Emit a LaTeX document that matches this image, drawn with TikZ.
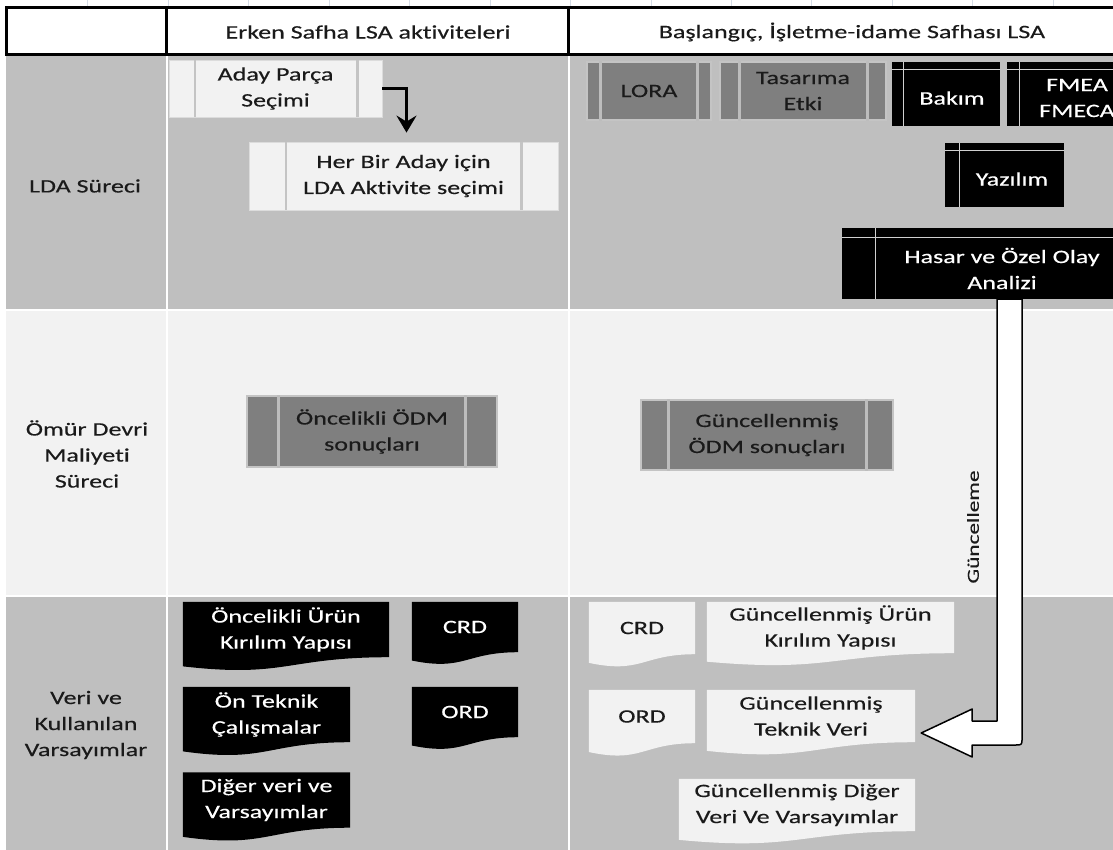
\documentclass[tikz,border=0pt]{standalone}
\usepackage{fontspec}
\setmainfont{Carlito}[FakeStretch=1.37,FakeBold=0.35,Ligatures=NoCommon]
\usetikzlibrary{calc,arrows.meta}
\pgfdeclarelayer{bg}
\pgfdeclarelayer{mid}
\pgfsetlayers{bg,mid,main}
\definecolor{rowgrey}{HTML}{BFBFBF}
\definecolor{rowlight}{HTML}{F2F2F2}
\definecolor{boxlight}{HTML}{F2F2F2}
\definecolor{boxdark}{HTML}{7F7F7F}
\definecolor{txtc}{HTML}{1A1A1A}
\definecolor{gridc}{HTML}{D5DCE6}
\definecolor{plline}{HTML}{DCDCDC}
\definecolor{pdline}{HTML}{C4C4C4}
\definecolor{sepc}{HTML}{C4C4C4}
\definecolor{sepdc}{HTML}{BDBDBD}
\definecolor{storec}{HTML}{D0D0D0}
\newcommand\proclines[4]{\draw[#4] ($(#1.north west)+(#2pt,0pt)$) -- ($(#1.south west)+(#2pt,0pt)$) ($(#1.north east)+(-#3pt,0pt)$) -- ($(#1.south east)+(-#3pt,0pt)$);}
\newcommand\storeext[3]{%
  \fill[black] ($(#1.south west)+(-#2pt,0pt)$) rectangle ($(#1.north west)+(0pt,#3pt)$);
  \fill[black] (#1.north west) rectangle ($(#1.north east)+(0pt,#3pt)$);
  \draw[storeline] ($(#1.north west)+(-#2pt,0pt)$) -- (#1.north east);
  \draw[storeline] ($(#1.north west)+(0pt,#3pt)$) -- (#1.south west);}
\newcommand\docfill[2]{\fill[#2] let \p1=(#1.north west), \p2=(#1.south east), \n1={\y1-\y2} in
  (\x1,\y1) -- (\x2,\y1) -- (\x2,\y2) .. controls ({0.5*(\x1+\x2)},\y2) and ({0.5*(\x1+\x2)},{\y2-0.380*\n1}) .. (\x1,{\y2-0.165*\n1}) -- cycle;}
\begin{document}
\begin{tikzpicture}[x=1pt,y=-1pt,
  lbl/.style={font=\fontsize{19}{26}\selectfont, text=txtc, align=center, inner sep=0pt},
  procl/.style={lbl, fill=boxlight, draw=plline, line width=0.8pt},
  procd/.style={lbl, fill=boxdark, draw=pdline, line width=1.4pt},
  sepl/.style={draw=sepc, line width=2.2pt},
  sepd/.style={draw=sepdc, line width=2.6pt},
  store/.style={lbl, text=white, fill=black},
  storeline/.style={draw=storec, line width=1.2pt},
  docb/.style={lbl, text=white},
  docl/.style={lbl},
  hdr/.style={draw=black, line width=3pt},
  elbow/.style={draw=black, line width=3pt, -{Stealth[length=17pt,width=20pt,inset=6pt]}},
  blockarrow/.style={fill=white, draw=black, line width=1.5pt, line join=round}]
\useasboundingbox (0,0) rectangle (1113,850);

% background rows and grid
\begin{pgfonlayer}{bg}
\fill[white] (0,0) rectangle (1113,850);
\foreach \gx in {87,168,248,329,409,490,570,651,731,811,892,972,1053}
  \draw[gridc, line width=0.8pt] (\gx,0) -- (\gx,8);
\fill[rowgrey] (6,55) rectangle (1113,309);
\fill[rowlight] (6,310.5) rectangle (1113,595);
\fill[rowgrey] (6,597) rectangle (1113,850);
\fill[white] (166,55) rectangle (168,850);
\fill[white] (568,55) rectangle (570,850);
\end{pgfonlayer}

% header
\fill[white] (6,8) rectangle (1113,54);
\draw[hdr] (6.5,8) rectangle (1125,54.5);
\draw[hdr] (166.5,8) -- (166.5,54.5);
\draw[hdr] (568.5,8) -- (568.5,54.5);
\node[lbl] (h1) at (368,32) {Erken Safha LSA aktiviteleri};
\node[lbl] (h2) at (852,32) {Başlangıç, İşletme-idame Safhası LSA};

% row labels
\node[lbl] (l1) at (85,186) {LDA Süreci};
\node[lbl] (l2) at (87,454) {Ömür Devri\\Maliyeti\\Süreci};
\node[lbl] (l3) at (86,725) {Veri ve\\Kullanılan\\Varsayımlar};

% LDA process boxes
\node[procl, minimum width=213pt, minimum height=57pt] (aday) at (275.5,88.5) {Aday Parça\\Seçimi};
\node[procl, minimum width=309pt, minimum height=68pt] (herbir) at (403.5,176) {Her Bir Aday için\\LDA Aktivite seçimi};
\proclines{aday}{26}{25}{sepl}
\proclines{herbir}{37}{37}{sepl}
\draw[elbow] (aday.east) -| ($(herbir.north)+(3pt,9pt)$);

\node[procd, minimum width=124pt, minimum height=58pt] (lora) at (649,91) {LORA};
\node[procd, minimum width=166pt, minimum height=58pt] (tasarim) at (803,91) {Tasarıma\\Etki};
\proclines{lora}{14}{14}{sepd}
\proclines{tasarim}{20}{19}{sepd}

\node[store, minimum width=96pt, minimum height=56pt] (bakim) at (952,98) {Bakım};
\node[store, minimum width=114pt, minimum height=56pt] (fmea) at (1077,98) {FMEA\\FMECA};
\node[store, minimum width=104pt, minimum height=56pt] (yazilim) at (1012,179) {Yazılım};
\node[store, minimum width=252pt, minimum height=61pt] (hasar) at (1002,268.5) {Hasar ve Özel Olay\\Analizi};
\storeext{bakim}{12}{8}
\storeext{fmea}{13}{8}
\storeext{yazilim}{15}{8}
\storeext{hasar}{34}{10}

% LCC row
\node[procd, minimum width=250pt, minimum height=71pt] (odm1) at (372,431.5) {Öncelikli ÖDM\\sonuçları};
\node[procd, minimum width=252pt, minimum height=70pt] (odm2) at (767,435) {Güncellenmiş\\ÖDM sonuçları};
\proclines{odm1}{32}{32}{sepd}
\proclines{odm2}{28}{27}{sepd}

% data row documents
\node[docb, minimum width=206pt, minimum height=55pt] (oukr) at (286,629.5) {Öncelikli Ürün\\Kırılım Yapısı};
\node[docb, minimum width=106pt, minimum height=50pt] (crd1) at (465,627) {CRD};
\node[docb, minimum width=167pt, minimum height=55pt] (onte) at (266.5,714.5) {Ön Teknik\\Çalışmalar};
\node[docb, minimum width=106pt, minimum height=50pt] (ord1) at (465,712) {ORD};
\node[docb, minimum width=167pt, minimum height=55pt] (diger) at (266.5,800) {Diğer veri ve\\Varsayımlar};
\node[docl, minimum width=106pt, minimum height=52pt] (crd2) at (642,628) {CRD};
\node[docl, minimum width=247pt, minimum height=51pt] (gukr) at (830.5,627.5) {Güncellenmiş Ürün\\Kırılım Yapısı};
\node[docl, minimum width=106pt, minimum height=53pt] (ord2) at (642,716.5) {ORD};
\node[docl, minimum width=208pt, minimum height=52pt] (gtv) at (811,716) {Güncellenmiş\\Teknik Veri};
\node[docl, minimum width=236pt, minimum height=52pt] (gdvv) at (797,805) {Güncellenmiş Diğer\\Veri Ve Varsayımlar};

\begin{pgfonlayer}{mid}
\docfill{oukr}{black}
\docfill{crd1}{black}
\docfill{onte}{black}
\docfill{ord1}{black}
\docfill{diger}{black}
\docfill{crd2}{boxlight}
\docfill{gukr}{boxlight}
\docfill{ord2}{boxlight}
\docfill{gtv}{boxlight}
\docfill{gdvv}{boxlight}
\end{pgfonlayer}

% block arrow "Güncelleme"
\coordinate (atop) at ($(hasar.south)+(7.5pt,0pt)$);
\coordinate (atip) at ($(gtv.east)+(6pt,-17pt)$);
\path[blockarrow] let \p1=(atop), \p2=(atip) in
  ({\x1-12.5pt},\y1) -- ({\x1-12.5pt},{\y2+12pt}) -- ({\x2+51pt},{\y2+12pt}) -- ({\x2+51pt},{\y2+24pt})
  -- (\x2,\y2) -- ({\x2+51pt},{\y2-24pt}) -- ({\x2+51pt},{\y2-12pt}) -- ({\x1+12.5pt-7pt},{\y2-12pt})
  .. controls ({\x1+12.5pt},{\y2-12pt}) .. ({\x1+12.5pt},{\y2-5pt}) -- ({\x1+12.5pt},\y1) -- cycle;
\node[lbl, rotate=90, font=\fontsize{17}{20}\selectfont] (gunc) at (973,527) {Güncelleme};
\end{tikzpicture}
\end{document}
